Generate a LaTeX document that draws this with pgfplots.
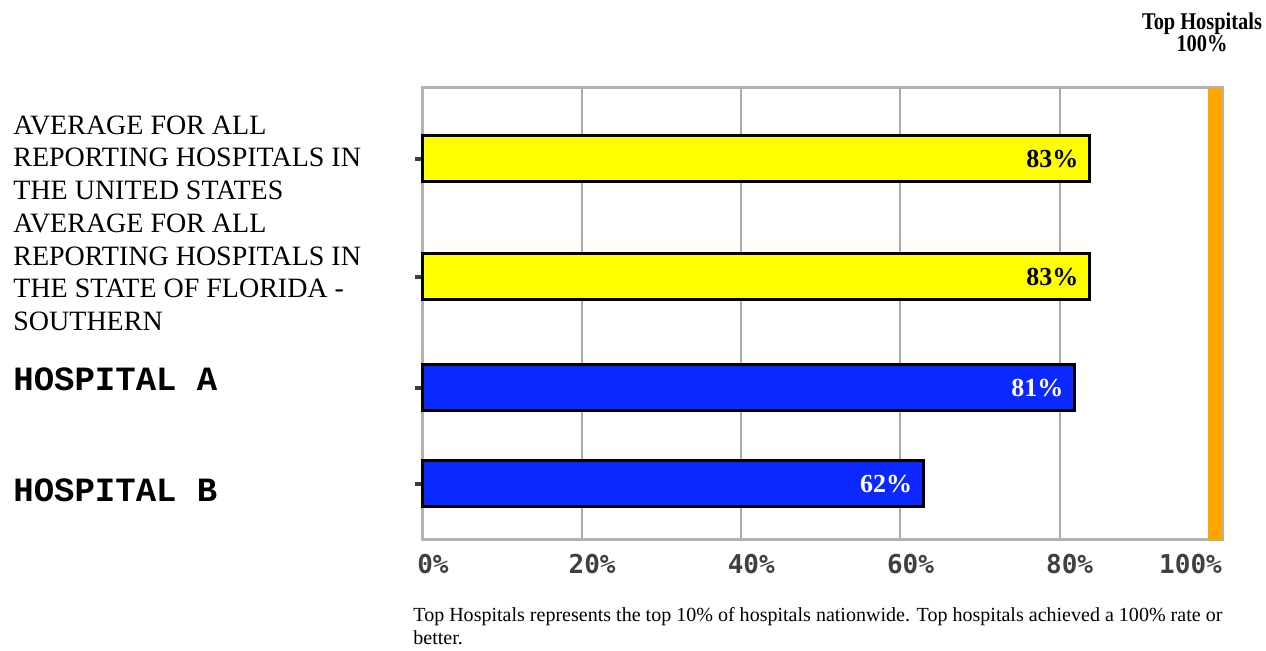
\documentclass[border=0pt]{standalone}
\usepackage{pgfplots}
\pgfplotsset{compat=1.18}
\usepackage{fontspec}
\usepackage{graphicx}
\setmainfont{Liberation Serif}
\newfontfamily\courf{Liberation Mono}
\newfontfamily\dvmono{DejaVu Sans Mono}
\definecolor{framegray}{RGB}{178,178,178}
\definecolor{gridgray}{RGB}{170,170,170}
\definecolor{tickgray}{RGB}{64,64,64}
\definecolor{barblue}{RGB}{10,40,255}
\definecolor{baryellow}{RGB}{255,255,0}
\definecolor{toporange}{RGB}{255,165,0}
\begin{document}
\begin{tikzpicture}
\path[use as bounding box] (-211.5pt,-55.5pt) rectangle (421.5pt,270pt);
\begin{axis}[
 at={(0,0)}, anchor=south west,
 scale only axis, width=399.5pt, height=226pt,
 xmin=0, xmax=100.4, ymin=88, ymax=540, y dir=reverse,
 axis line style={draw=framegray, line width=1.5pt},
 xtick={0,20,40,60,80,100},
 xticklabels={0\%,20\%,40\%,60\%,80\%,\makebox[0pt][r]{100\%\hspace{3.5pt}}},
 xticklabel style={font=\dvmono\bfseries\fontsize{13pt}{15pt}\selectfont, text=tickgray, inner sep=0pt, anchor=north, yshift=-3pt, xshift=5pt},
 x tick style={draw=none},
 xmajorgrids, grid style={draw=gridgray, line width=1pt},
 ytick={159,277,388,484}, yticklabels={},
 ytick pos=left, tick align=outside, major tick length=4pt,
 y tick style={draw=tickgray, line width=1.8pt},
 clip=false,
]
\addplot[draw=none, fill=toporange, forget plot] coordinates {(98.7,88) (100.45,88) (100.45,540) (98.7,540)} -- cycle;
\addplot[xbar, bar width=46, bar shift=0pt, fill=baryellow, draw=black, line width=1.5pt,
  point meta=explicit symbolic, nodes near coords,
  every node near coord/.append style={anchor=east, xshift=-5pt, inner sep=0pt, font=\bfseries\fontsize{13pt}{15pt}\selectfont, text=black}]
  coordinates {(83.8,159) [83\%] (83.8,277) [83\%]};
\addplot[xbar, bar width=46, bar shift=0pt, fill=barblue, draw=black, line width=1.5pt,
  point meta=explicit symbolic, nodes near coords,
  every node near coord/.append style={anchor=east, xshift=-5pt, inner sep=0pt, font=\bfseries\fontsize{13pt}{15pt}\selectfont, text=white}]
  coordinates {(81.9,388) [81\%] (62.9,484) [62\%]};
\end{axis}
\node[anchor=west, align=left, inner sep=0pt, font=\fontsize{14pt}{16.25pt}\selectfont] at (-205pt,191.25pt) {AVERAGE FOR ALL\\REPORTING HOSPITALS IN\\THE UNITED STATES};
\node[anchor=west, align=left, inner sep=0pt, font=\fontsize{14pt}{16.25pt}\selectfont] at (-205pt,133.75pt) {AVERAGE FOR ALL\\REPORTING HOSPITALS IN\\THE STATE OF FLORIDA -\\SOUTHERN};
\node[anchor=west, inner sep=0pt, font=\courf\bfseries\fontsize{17pt}{19pt}\selectfont] at (-205pt,80.5pt) {HOSPITAL A};
\node[anchor=west, inner sep=0pt, font=\courf\bfseries\fontsize{17pt}{19pt}\selectfont] at (-205pt,25pt) {HOSPITAL B};
\node[anchor=north, inner sep=0pt] at (389.5pt,264pt) {\fontsize{12pt}{11pt}\selectfont\resizebox*{60pt}{\totalheight}{\begin{tabular}{@{}c@{}}\bfseries Top Hospitals\\\bfseries 100\%\end{tabular}}};
\node[anchor=north west, inner sep=0pt] at (-5pt,-32.5pt) {\fontsize{10pt}{11.5pt}\selectfont\resizebox*{404.5pt}{\totalheight}{\begin{tabular}{@{}l@{}}Top Hospitals represents the top 10\% of hospitals nationwide. Top hospitals achieved a 100\% rate or\\better.\end{tabular}}};
\end{tikzpicture}
\end{document}
